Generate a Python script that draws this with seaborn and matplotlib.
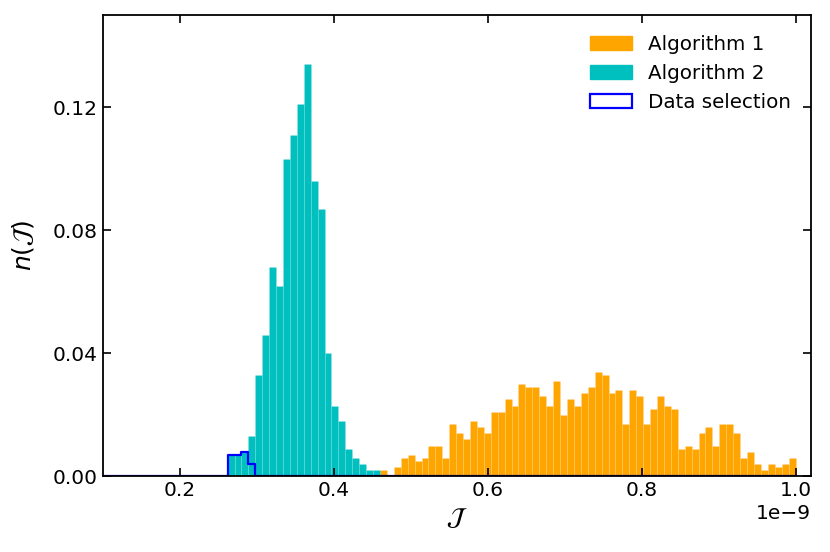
import numpy as np
import pandas as pd
import matplotlib
matplotlib.use("Agg")
import matplotlib.pyplot as plt
import seaborn as sns
from matplotlib.patches import Patch

# ? Datos (n(J) por bin, 100 bins entre 0.1e-9 y 1.0e-9) ----

n_bins = 100
bin_range = (0.1e-9, 1.0e-9)

# Algorithm 2 empieza en el bin 18
algo2_start = 18
algo2_values = [0.007, 0.007, 0.008, 0.013, 0.033, 0.046, 0.068, 0.062, 0.103,
                0.111, 0.121, 0.134, 0.096, 0.087, 0.040, 0.023, 0.018, 0.009,
                0.006, 0.004, 0.002, 0.002]

# Algorithm 1 empieza en el bin 40
algo1_start = 40
algo1_values = [0.002, 0.000, 0.003, 0.006, 0.007, 0.005, 0.006, 0.010, 0.010,
                0.006, 0.017, 0.014, 0.012, 0.018, 0.016, 0.014, 0.021, 0.021,
                0.025, 0.023, 0.030, 0.029, 0.029, 0.026, 0.023, 0.031, 0.020,
                0.025, 0.023, 0.027, 0.029, 0.034, 0.033, 0.027, 0.028, 0.017,
                0.028, 0.026, 0.017, 0.022, 0.026, 0.023, 0.022, 0.009, 0.010,
                0.009, 0.014, 0.016, 0.010, 0.017, 0.017, 0.014, 0.006, 0.008,
                0.004, 0.002, 0.004, 0.003, 0.004, 0.006]

# Data selection empieza en el bin 18
sel_start = 18
sel_values = [0.007, 0.007, 0.008, 0.004]

labels = ["Algorithm 1", "Algorithm 2", "Data selection"]

# ? Armar tablas completas --------------------------------------------------

edges = np.linspace(bin_range[0], bin_range[1], n_bins + 1)
centers = (edges[:-1] + edges[1:]) / 2


def tabla(start, values):
    h = np.zeros(n_bins)
    h[start:start + len(values)] = values
    return pd.DataFrame({"J": centers, "n": h})


df1 = tabla(algo1_start, algo1_values)
df2 = tabla(algo2_start, algo2_values)
dfs = tabla(sel_start, sel_values)

# ? Grafico -----------------------------------------------------------------

fig = plt.figure(figsize=(8.3, 5.52), dpi=100)
ax = fig.add_axes([0.124, 0.137, 0.853, 0.836])

sns.histplot(data=df1, x="J", weights="n", bins=n_bins, binrange=bin_range,
             color="orange", alpha=1, edgecolor=(1, 1, 1, 0.12),
             linewidth=0.5, ax=ax)
sns.histplot(data=df2, x="J", weights="n", bins=n_bins, binrange=bin_range,
             color="c", alpha=1, edgecolor=(1, 1, 1, 0.12),
             linewidth=0.5, ax=ax)
sns.histplot(data=dfs, x="J", weights="n", bins=n_bins, binrange=bin_range,
             element="step", fill=False, color="blue", linewidth=1.6, ax=ax)

ax.set_xlim(0.1e-9, 1.02e-9)
ax.set_ylim(0, 0.15)
ax.set_xticks(np.array([0.2, 0.4, 0.6, 0.8, 1.0]) * 1e-9)
ax.set_yticks([0.0, 0.04, 0.08, 0.12])
ax.yaxis.set_major_formatter(matplotlib.ticker.FormatStrFormatter("%.2f"))
ax.tick_params(direction="in", top=True, right=True, length=6, width=1.2,
               labelsize=14.5)
ax.xaxis.get_offset_text().set_fontsize(14.5)
for s in ax.spines.values():
    s.set_linewidth(1.3)

ax.set_xlabel(r"$\mathcal{J}$", fontsize=18)
ax.set_ylabel(r"$n(\mathcal{J})$", fontsize=18, labelpad=12)

handles = [Patch(facecolor="orange", edgecolor="orange"),
           Patch(facecolor="c", edgecolor="c"),
           Patch(facecolor="none", edgecolor="blue", linewidth=1.6)]
ax.legend(handles, labels, loc="upper right", frameon=False, fontsize=14.3,
          handlelength=2.1, borderaxespad=0.6)

plt.savefig("out.png", dpi=100)
